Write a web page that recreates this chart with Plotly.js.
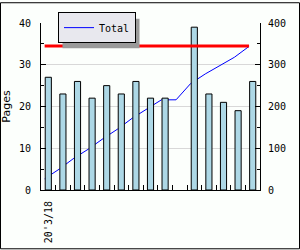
<!DOCTYPE html>
<html>
<head>
<meta charset="utf-8">
<script src="https://cdn.plot.ly/plotly-3.0.1.min.js"></script>
<style>
html,body{margin:0;padding:0;background:#fcfffc;}
#chart{width:300px;height:250px;}
</style>
</head>
<body>
<div id="chart"></div>
<script>
// ---- data ----
const dayIndex = [0,1,2,3,4,5,6,7,8,9,10,11,12,13,14];
const firstDayLabel = "20'3/18";
const pages = [27,23,26,22,25,23,26,22,22,null,39,23,21,19,26];
const targetTotal = 345;
const lineName = "Total";
const yLeftTitle = "Pages";

// running total derived from the bar values
const runningTotal = [];
let acc = 0;
for (const p of pages) { acc += (p || 0); runningTotal.push(acc); }

const n = dayIndex.length;
const mono = "DejaVu Sans Mono, monospace";
const sans = "DejaVu Sans, sans-serif";

const traces = [
  { // running total line (behind the bars)
    type: "scatter", mode: "lines",
    x: dayIndex, y: runningTotal,
    xaxis: "x", yaxis: "y",
    name: lineName,
    line: {color: "#0000ff", width: 1},
    hoverinfo: "skip"
  },
  { // daily pages
    type: "bar",
    x: dayIndex, y: pages,
    xaxis: "x2", yaxis: "y2",
    width: 0.42,
    marker: {color: "#add8e6", line: {color: "#000000", width: 1}},
    showlegend: false,
    hoverinfo: "skip"
  },
  { // target total
    type: "scatter", mode: "lines",
    x: [dayIndex[0], dayIndex[n-1]], y: [targetTotal, targetTotal],
    xaxis: "x3", yaxis: "y3",
    line: {color: "#ff0000", width: 3},
    showlegend: false,
    hoverinfo: "skip"
  }
];

// line axis is offset a quarter slot from the bar categories
const catRange = [-0.5, n - 0.5];
const shiftedRange = [-0.25, n - 0.25];
const boundaryTicks = dayIndex.slice(1).map(i => i - 0.5);

const L = 41, R = 40, T = 21, B = 60, PW = 300 - L - R, PH = 250 - T - B;
const px2x = px => (px - L) / PW;
const px2y = py => (T + PH - py) / PH;

const layout = {
  width: 300, height: 250,
  margin: {l: L, r: R, t: T, b: B, pad: 0},
  paper_bgcolor: "#fcfffc",
  plot_bgcolor: "#fcfffc",
  font: {family: mono, size: 10, color: "#000"},
  showlegend: true,
  legend: {
    x: px2x(58), y: px2y(10), xanchor: "left", yanchor: "top",
    bgcolor: "#e8e8ee", bordercolor: "#000", borderwidth: 1,
    font: {family: mono, size: 10, color: "#000"},
    itemwidth: 30
  },
  xaxis: {range: shiftedRange, visible: false},
  yaxis: {
    range: [0, 400], side: "right",
    tickmode: "linear", tick0: 0, dtick: 100,
    ticks: "inside", ticklen: 5, tickcolor: "#000",
    minor: {tickmode: "linear", tick0: 0, dtick: 50, ticks: "inside", ticklen: 3, tickcolor: "#000", showgrid: false},
    showgrid: false, zeroline: false,
    showline: true, linecolor: "#000", linewidth: 1,
    ticklabelstandoff: 5,
    tickfont: {family: mono, size: 10, color: "#000"}
  },
  xaxis2: {
    overlaying: "x", anchor: "y2", side: "bottom",
    range: catRange,
    tickmode: "array", tickvals: [dayIndex[0]], ticktext: [firstDayLabel],
    ticks: "", tickangle: -90,
    minor: {tickmode: "array", tickvals: boundaryTicks, ticks: "inside", ticklen: 5, tickcolor: "#000", showgrid: false},
    showgrid: false, zeroline: false,
    showline: true, linecolor: "#000", linewidth: 1,
    ticklabelstandoff: 6,
    tickfont: {family: mono, size: 10, color: "#000"}
  },
  yaxis2: {
    overlaying: "y", side: "left", anchor: "x2",
    range: [0, 40],
    tickmode: "linear", tick0: 0, dtick: 10,
    ticks: "inside", ticklen: 5, tickcolor: "#000",
    minor: {tickmode: "linear", tick0: 0, dtick: 5, ticks: "inside", ticklen: 3, tickcolor: "#000", showgrid: false},
    showgrid: true, gridcolor: "#d8d8d8", gridwidth: 1,
    zeroline: false,
    showline: true, linecolor: "#000", linewidth: 1,
    ticklabelstandoff: 7,
    tickfont: {family: mono, size: 10, color: "#000"},
    title: {text: yLeftTitle, font: {family: sans, size: 11, color: "#000"}, standoff: 6}
  },
  xaxis3: {overlaying: "x", range: shiftedRange, visible: false},
  yaxis3: {overlaying: "y", range: [0, 400], visible: false},
  shapes: [
    { // outer image frame
      type: "rect", xref: "paper", yref: "paper", layer: "above",
      x0: px2x(0.5), x1: px2x(299.5), y0: px2y(249.5), y1: px2y(0.5),
      line: {color: "#000", width: 1}, fillcolor: "rgba(0,0,0,0)"
    }
  ]
};

Plotly.newPlot("chart", traces, layout, {staticPlot: true, displayModeBar: false}).then(gd => {
  // drop shadow behind the legend box
  const bg = gd.querySelector(".legend .bg");
  if (!bg) return;
  const host = gd.getBoundingClientRect();
  const r = bg.getBoundingClientRect();
  const x0 = r.left - host.left, y0 = r.top - host.top;
  const x1 = r.right - host.left, y1 = r.bottom - host.top;
  const shadow = {
    type: "rect", xref: "paper", yref: "paper", layer: "above",
    x0: px2x(x0 + 4), x1: px2x(x1 + 4), y0: px2y(y1 + 4), y1: px2y(y0 + 4),
    line: {width: 0}, fillcolor: "#9a9a9a"
  };
  return Plotly.relayout(gd, {shapes: layout.shapes.concat([shadow])});
});
</script>
</body>
</html>
